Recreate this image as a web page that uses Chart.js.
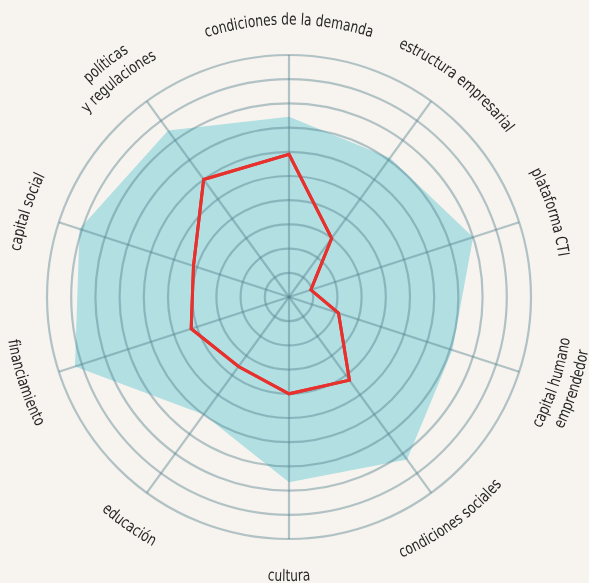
<!DOCTYPE html>
<html>
<head>
<meta charset="utf-8">
<script src="https://cdn.jsdelivr.net/npm/chart.js@4/dist/chart.umd.min.js"></script>
<style>
  html, body { margin: 0; padding: 0; background: #f7f3ef; }
  #c { display: block; }
</style>
</head>
<body>
<canvas id="c" width="589" height="583"></canvas>
<script>
const categories = [
  'condiciones de la demanda',
  'estructura empresarial',
  'plataforma CTI',
  ['capital humano', 'emprendedor'],
  'condiciones sociales',
  'cultura',
  'educación',
  'financiamiento',
  'capital social',
  ['políticas', 'y regulaciones']
];
const referenceValues = [7.45, 7.1, 8.0, 7.1, 8.3, 7.65, 6.0, 9.3, 9.1, 8.5];
const currentValues   = [5.9, 3.0, 0.95, 2.15, 4.25, 4.0, 3.55, 4.25, 4.15, 6.0];
const scaleMin = 0;
const scaleMax = 10;
const scaleStep = 1;

const GRID = 'rgba(82,126,139,0.42)';
const LABEL_FONT = '16px "Liberation Sans Narrow", "DejaVu Sans Condensed", "Roboto", sans-serif';

const curvedLabels = {
  id: 'curvedLabels',
  afterDraw(chart) {
    // keep the red line above the grid layer
    const red = chart.getDatasetMeta(1);
    if (red && red.controller) red.controller.draw();

    const s = chart.scales.r;
    const ctx = chart.ctx;
    const cx = s.xCenter, cy = s.yCenter;
    const R0 = s.drawingArea + 30.5;
    const LH = 20, ASC = 11.5;
    const nudge = {1: 11, 6: -5, 9: -11}; // arc-length shift (px, clockwise)
    ctx.save();
    ctx.font = LABEL_FONT;
    const k = Math.min(1, 168 / ctx.measureText('condiciones de la demanda').width);
    ctx.fillStyle = '#262626';
    ctx.textAlign = 'center';
    ctx.textBaseline = 'alphabetic';
    categories.forEach((lab, i) => {
      const lines = Array.isArray(lab) ? lab : [lab];
      const th0 = s.getIndexAngle(i);
      const upper = Math.cos(th0) > 1e-6;
      lines.forEach((line, j) => {
        const R = upper ? R0 + (lines.length - 1 - j) * LH : R0 + ASC + j * LH;
        const th = th0 + (nudge[i] || 0) / R;
        const W = ctx.measureText(line).width * k;
        const chars = Array.from(line);
        chars.forEach((ch, n) => {
          const pre = ctx.measureText(chars.slice(0, n).join('')).width * k;
          const cw = ctx.measureText(ch).width * k;
          const d = (pre + cw / 2 - W / 2) / R;
          const a = upper ? th + d : th - d;
          const x = cx + R * Math.sin(a);
          const y = cy - R * Math.cos(a);
          ctx.save();
          ctx.translate(x, y);
          ctx.rotate(upper ? a : a - Math.PI);
          ctx.scale(k, 1);
          ctx.fillText(ch, 0, 0);
          ctx.restore();
        });
      });
    });
    ctx.restore();
  }
};

new Chart(document.getElementById('c'), {
  type: 'radar',
  data: {
    labels: categories,
    datasets: [
      {
        data: referenceValues,
        backgroundColor: '#b1dfe2',
        borderWidth: 0,
        fill: true,
        pointRadius: 0,
        order: 1
      },
      {
        data: currentValues,
        borderColor: '#e8302c',
        borderWidth: 3,
        fill: false,
        pointRadius: 0,
        order: 0
      }
    ]
  },
  options: {
    responsive: false,
    animation: false,
    events: [],
    layout: { padding: { left: 47, right: 58, top: 55, bottom: 44 } },
    plugins: { legend: { display: false }, tooltip: { enabled: false } },
    elements: { line: { tension: 0, borderJoinStyle: 'miter' } },
    scales: {
      r: {
        min: scaleMin,
        max: scaleMax,
        beginAtZero: true,
        ticks: { display: false, stepSize: scaleStep },
        grid: { circular: true, color: GRID, lineWidth: 2.2, z: 1 },
        angleLines: { display: true, color: GRID, lineWidth: 2.2 },
        pointLabels: { display: false }
      }
    }
  },
  plugins: [curvedLabels]
});
</script>
</body>
</html>
